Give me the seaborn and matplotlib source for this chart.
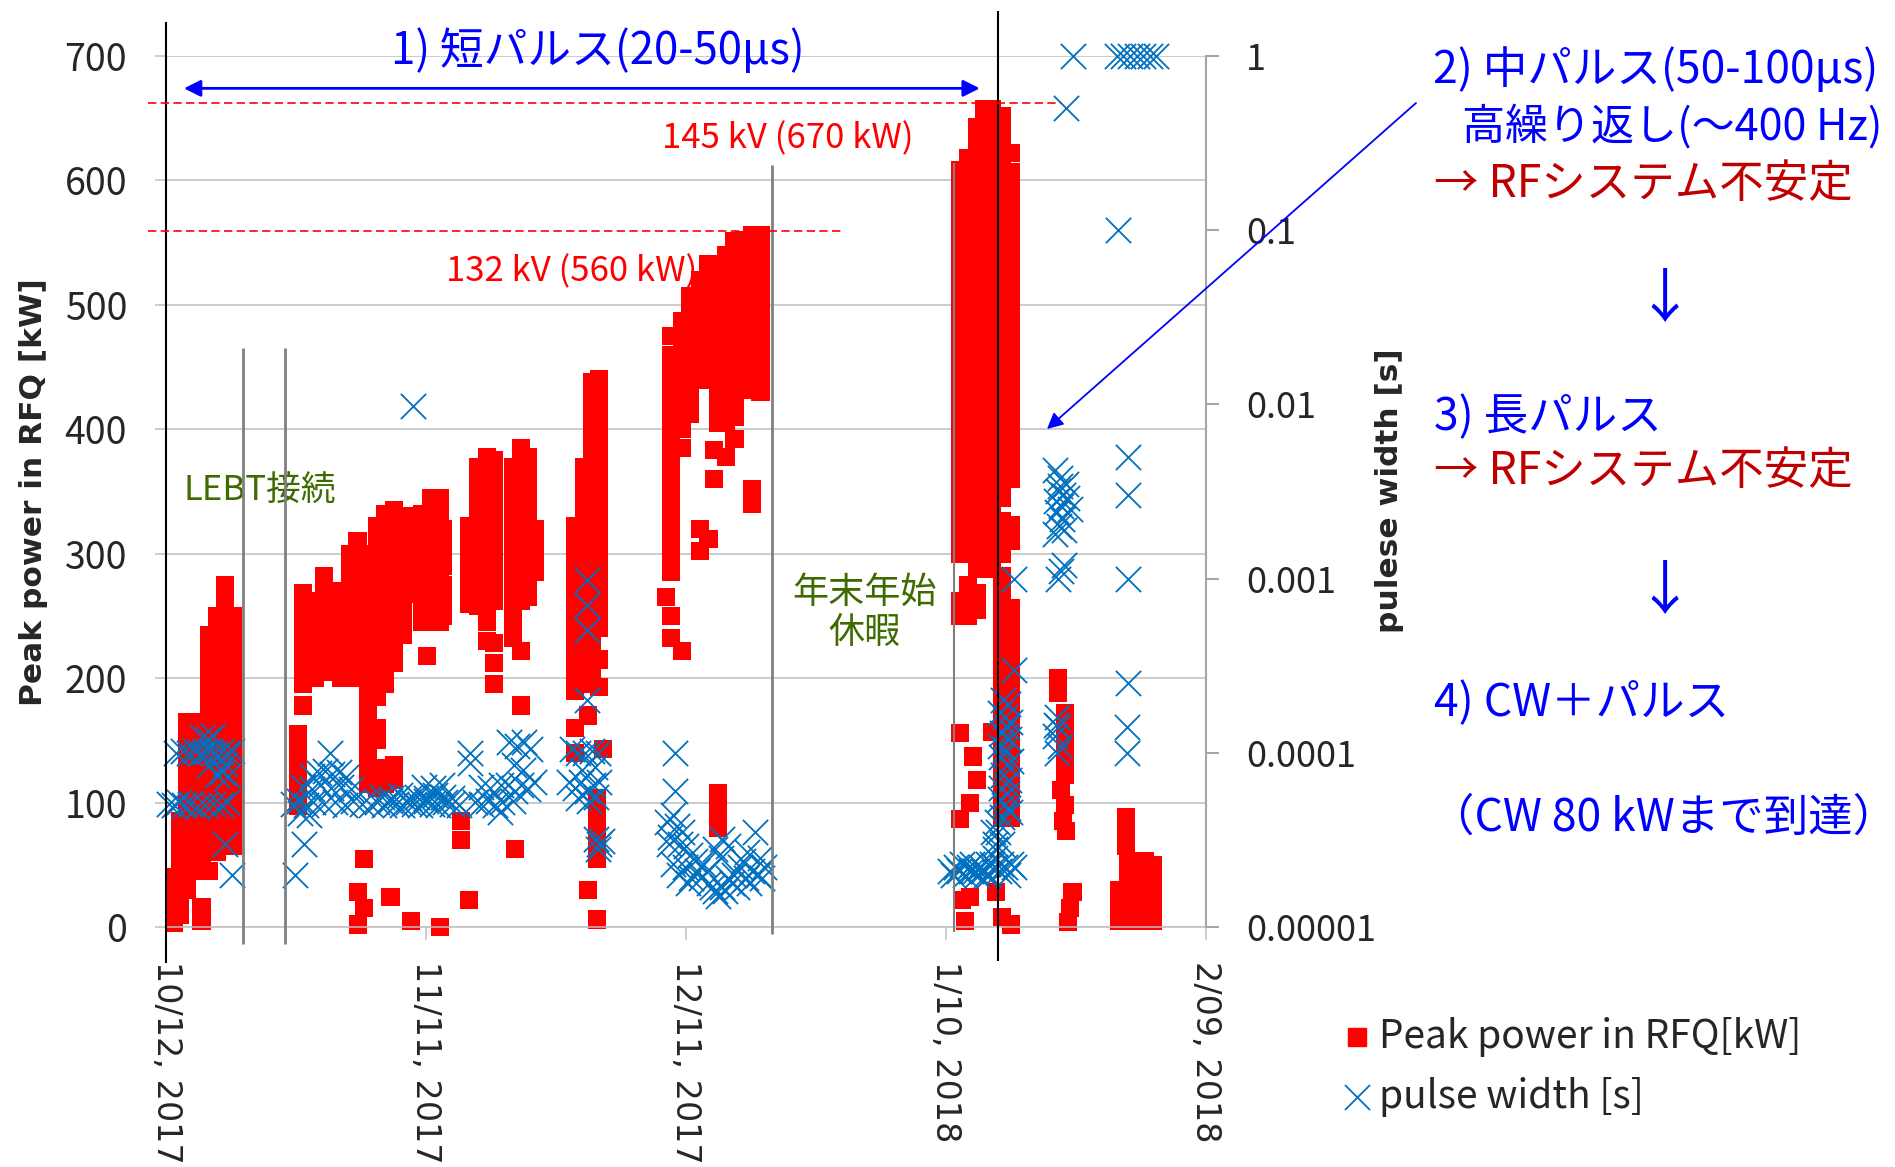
import matplotlib
matplotlib.use("Agg")
import matplotlib.pyplot as plt
from matplotlib.lines import Line2D
from matplotlib.ticker import NullLocator
import pandas as pd
import seaborn as sns

# ---------------- data (days since 10/12/2017) ----------------
x_tick_days = [0, 30, 60, 90, 120]
x_tick_labels = ["10/12, 2017", "11/11, 2017", "12/11, 2017", "1/10, 2018", "2/09, 2018"]
kw_ticks = [0, 100, 200, 300, 400, 500, 600, 700]
pw_ticks = [1e-5, 1e-4, 1e-3, 1e-2, 1e-1, 1]
pw_tick_labels = ["0.00001", "0.0001", "0.001", "0.01", "0.1", "1"]

# Peak power in RFQ [kW] : day of each column and the kW values read in that column
red_a_day = [0.9, 1.6, 2.4, 3.2, 4.1, 5.0, 5.9, 6.8, 7.7]
red_a_kw = [
    [3, 15, 28, 40],
    [10, 22, 35, 48, 60, 72, 85],
    [30, 42, 55, 68, 80, 92, 105, 118, 130, 142, 155, 165],
    [45, 58, 70, 82, 95, 108, 120, 132, 145, 158, 165],
    [5, 16, 55, 68, 80, 92, 105, 118, 130, 142, 155, 165],
    [45, 60, 72, 85, 98, 110, 122, 135, 148, 160, 172, 185, 198, 210, 222, 235],
    [60, 75, 88, 100, 112, 125, 138, 150, 162, 175, 188, 200, 212, 225, 238, 250],
    [65, 78, 90, 102, 115, 128, 140, 152, 165, 178, 190, 202, 215, 228, 240, 252, 264, 275],
    [65, 78, 90, 102, 115, 128, 140, 152, 165, 178, 190, 202, 215, 228, 240, 250],
]

red_b_day = [15.2, 15.8, 17.2, 18.2, 19.2, 20.2, 21.2, 22.1, 22.2, 22.8, 23.3, 24.3, 25.3, 25.9,
             26.3, 27.3, 28.3, 29.5, 30.1, 30.6, 31.6, 32.0, 34.0, 35.0, 36.0, 37.0, 37.8, 40.0,
             40.3, 41.0, 41.8, 42.6]
red_b_kw = [
    [97, 110, 122, 135, 147, 155],
    [178, 195, 208, 220, 232, 245, 258, 268],
    [200, 212, 225, 238, 250, 262],
    [205, 218, 230, 242, 255, 268, 282],
    [215, 228, 240, 252, 262],
    [200, 212, 225, 238, 250, 262, 270],
    [200, 212, 225, 238, 250, 262, 275, 288, 300],
    [205, 218, 230, 242, 255, 268, 280, 292, 305, 310],
    [2, 28],
    [15, 55],
    [115, 128, 140, 152, 165, 178, 190, 200, 212, 225, 238, 250, 262, 275, 288, 300],
    [112, 125, 150, 160, 185, 198, 210, 222, 235, 248, 260, 272, 285, 298, 310, 322],
    [115, 128, 195, 205, 220, 232, 245, 258, 270, 282, 295, 308, 320, 332],
    [24],
    [118, 130, 212, 225, 238, 250, 262, 275, 288, 300, 312, 325, 335],
    [235, 245, 255, 268, 280, 292, 305, 318, 330],
    [5, 268, 280, 292, 305, 318, 330],
    [245, 258, 270, 282, 295, 308, 320, 332],
    [218],
    [245, 258, 270, 282, 295, 308, 320, 335, 345],
    [0, 245, 258, 270, 282, 295, 308, 320, 332, 345],
    [250, 262, 275, 290, 305, 320],
    [70, 85],
    [22, 260, 272, 285, 298, 310, 322],
    [258, 270, 282, 295, 308, 320, 332, 345, 358, 370],
    [230, 245, 258, 270, 282, 295, 308, 320, 332, 345, 358, 370, 378],
    [195, 212, 228, 262, 275, 288, 300, 312, 325, 338, 350, 362, 375],
    [232, 245, 258, 270, 282, 295, 308, 320, 332, 345, 358, 370],
    [63],
    [178, 222, 262, 275, 288, 300, 312, 325, 338, 350, 362, 375, 385],
    [265, 278, 290, 302, 315, 328, 340, 352, 365, 378],
    [285, 298, 310, 320],
]

red_c_day = [47.2, 48.2, 48.7, 49.2, 49.7, 50.0, 50.4]
red_c_kw = [
    [140, 160, 190, 200, 212, 225, 238, 250, 262, 275, 288, 300, 312, 322],
    [195, 208, 220, 232, 245, 258, 270, 282, 295, 308, 320, 332, 345, 358, 370],
    [30, 170],
    [200, 212, 225, 238, 250, 262, 275, 288, 300, 312, 325, 338, 350, 362, 375, 388, 400, 412, 425, 438],
    [6, 55, 68, 80, 92, 104],
    [193, 215, 240, 255, 268, 280, 292, 305, 318, 332, 345, 358, 370, 382, 395, 408, 420, 432, 440],
    [143],
]

red_d_day = [57.7, 58.3, 59.5, 60.5, 61.6, 62.6, 63.2, 63.7, 64.6, 65.6, 66.6, 67.6, 68.6]
red_d_kw = [
    [265],
    [232, 250, 285, 298, 310, 322, 335, 348, 360, 372, 385, 398, 410, 422, 435, 448, 460, 475],
    [222, 385, 400, 412, 425, 438, 450, 462, 475, 487],
    [412, 425, 438, 450, 462, 475, 487, 500, 507],
    [302, 320, 450, 462, 475, 487, 500, 512, 520],
    [312, 440, 452, 465, 475, 487, 500, 512, 525, 533],
    [360, 383],
    [80, 95, 108, 405, 418, 430, 442, 455, 468, 480, 492, 505, 518, 530],
    [378, 405, 418, 430, 442, 455, 468, 480, 492, 505, 518, 530, 540],
    [392, 410, 422, 435, 448, 460, 472, 480, 492, 505, 518, 530, 542, 551],
    [450, 462, 472, 480, 492, 505, 518, 530, 542, 552],
    [340, 352, 432, 445, 458, 470, 482, 495, 508, 520, 532, 545, 556],
    [430, 442, 455, 468, 482, 495, 508, 520, 532, 545, 556],
]

red_e_day = [91.6, 91.8, 92.2, 92.5, 92.8, 93.1, 93.6, 94.4, 95.3, 95.8, 96.5, 97.5, 102.9, 103.3,
             103.5, 103.7, 103.8, 104.1, 104.3, 104.6, 110.0, 110.8, 111.0, 112.0, 113.0, 113.9]
red_e_kw = [
    [87, 156, 250, 262, 300, 313, 326, 339, 352, 365, 378, 391, 404, 417, 430, 443, 456, 469, 482,
     495, 508, 521, 534, 547, 560, 573, 586, 599, 608],
    [22],
    [5],
    [250, 265, 275, 300, 313, 326, 339, 352, 365, 378, 391, 404, 417, 430, 443, 456, 469, 482, 495,
     508, 521, 534, 547, 560, 573, 586, 599, 612, 618],
    [24, 100],
    [137],
    [118, 255, 268, 288, 300, 313, 326, 339, 352, 365, 378, 391, 404, 417, 430, 443, 456, 469, 482,
     495, 508, 521, 534, 547, 560, 573, 586, 599, 612, 625, 638, 643],
    [288, 300, 313, 326, 339, 352, 365, 378, 391, 404, 417, 430, 443, 456, 469, 482, 495, 508, 521,
     534, 547, 560, 573, 586, 599, 612, 625, 638, 650, 657],
    [157, 290, 318, 331, 344, 370, 383, 430, 443, 456, 469, 482, 495, 508, 521, 534, 547, 560, 573,
     586, 599, 612, 625, 638, 650, 657],
    [28],
    [8, 88, 100, 113, 126, 139, 152, 165, 178, 191, 204, 217, 230, 243, 256, 269, 282, 300, 313, 326,
     345, 358, 371, 384, 397, 410, 423, 436, 449, 462, 475, 488, 501, 514, 527, 540, 553, 566, 579,
     592, 605, 618, 631, 644, 652],
    [2, 88, 100, 113, 126, 139, 152, 165, 178, 191, 204, 217, 230, 243, 256, 310, 323, 360, 373, 386,
     399, 412, 425, 438, 451, 464, 477, 490, 503, 516, 529, 542, 555, 568, 581, 594, 607, 622],
    [188, 200],
    [110],
    [85],
    [98, 122, 135, 147, 160, 172],
    [77],
    [4],
    [15],
    [28],
    [5, 17, 30],
    [65, 75, 88],
    [5, 17, 30, 42, 53],
    [5, 17, 30, 42, 53],
    [5, 17, 30, 42, 53],
    [5, 17, 30, 42, 50],
]

# pulse width [s]
blue_a_day = [0.4, 0.9, 1.5, 2.1, 2.8, 3.6, 4.5, 5.4, 6.3, 7.0,
              1.2, 2.0, 2.6, 3.3, 4.0, 4.5, 5.1, 5.7, 6.3, 7.0, 7.6,
              4.2, 4.8, 5.4, 5.9, 6.5, 7.1, 5.0, 6.8, 6.8, 7.6]
blue_a_pw = [5.1e-5, 5.0e-5, 5.2e-5, 5.0e-5, 5.1e-5, 4.9e-5, 5.0e-5, 5.1e-5, 5.0e-5, 5.2e-5,
             1.0e-4, 1.02e-4, 1.0e-4, 1.03e-4, 1.0e-4, 1.01e-4, 1.02e-4, 1.0e-4, 1.01e-4, 1.0e-4, 1.02e-4,
             1.23e-4, 1.2e-4, 1.25e-4, 7.5e-5, 7.8e-5, 7.4e-5, 8.5e-5, 8.6e-5, 3.0e-5, 2.0e-5]

blue_b_day = [14.6, 15.4, 16.2, 17.0, 18.2, 19.5, 20.6, 21.6, 22.6, 23.6, 24.4, 25.1, 25.8, 26.5,
              27.2, 27.9, 28.6, 29.3, 30.0, 30.7, 31.4, 32.2, 33.0, 33.8, 35.6, 36.4, 37.2, 38.0, 38.8,
              24.9, 26.0, 27.0, 28.0, 29.0, 30.0, 31.0, 32.0, 33.0,
              15.8, 16.8, 17.8, 19.0, 20.2, 21.3, 29.8, 30.8, 31.8, 36.4, 37.4, 38.6,
              16.8, 17.6, 18.4, 19.2, 20.0, 20.8,
              18.9, 35.1, 35.1,
              15.9, 14.9, 15.5, 16.5, 28.5,
              39.6, 40.5, 41.3, 42.0, 40.2, 41.2, 39.5, 40.3, 41.0, 41.8, 42.5, 40.0, 38.5]
blue_b_pw = [5.1e-5, 5.3e-5, 5.0e-5, 5.2e-5, 5.1e-5, 5.2e-5, 5.0e-5, 5.3e-5, 5.1e-5, 5.0e-5, 5.2e-5,
             5.0e-5, 5.3e-5, 5.1e-5, 5.0e-5, 5.2e-5, 5.1e-5, 5.0e-5, 5.3e-5, 5.1e-5, 5.0e-5, 5.2e-5,
             5.1e-5, 5.0e-5, 5.2e-5, 5.1e-5, 5.3e-5, 5.0e-5, 5.2e-5,
             5.6e-5, 5.5e-5, 5.7e-5, 5.5e-5, 5.6e-5, 5.5e-5, 5.7e-5, 5.6e-5, 5.5e-5,
             6.4e-5, 6.2e-5, 6.5e-5, 6.3e-5, 6.4e-5, 6.2e-5, 6.4e-5, 6.3e-5, 6.5e-5, 6.4e-5, 6.3e-5, 6.5e-5,
             7.4e-5, 7.7e-5, 7.9e-5, 7.6e-5, 7.8e-5, 7.3e-5,
             1.0e-4, 1.0e-4, 8.7e-5,
             3.0e-5, 2.0e-5, 4.5e-5, 4.4e-5, 9.8e-3,
             1.15e-4, 1.1e-4, 1.15e-4, 1.05e-4, 8.5e-5, 8.0e-5, 6.5e-5, 6.0e-5, 6.5e-5, 6.2e-5, 6.8e-5,
             5.3e-5, 4.6e-5]

blue_c_day = [48.6, 48.6, 48.6, 48.6, 46.8, 47.5, 48.3, 49.1, 49.8, 46.5, 47.2, 47.9, 48.6, 49.3,
              50.0, 47.5, 48.8, 49.6, 48.0, 49.5, 49.6, 50.0, 49.8, 50.3]
blue_c_pw = [9.8e-4, 7.1e-4, 5.1e-4, 2.0e-4, 1.05e-4, 1.0e-4, 1.0e-4, 1.03e-4, 1.0e-4, 6.8e-5, 6.3e-5,
             6.8e-5, 6.0e-5, 6.5e-5, 6.8e-5, 5.5e-5, 5.3e-5, 5.6e-5, 8.0e-5, 8.3e-5, 3.2e-5, 3.0e-5,
             2.8e-5, 3.1e-5]

blue_d_day = [58.7, 58.7, 57.8, 58.5, 59.0, 58.2, 59.3, 60.0, 58.0, 59.5, 60.5,
              58.5, 59.2, 59.9, 60.6, 61.3, 62.0, 62.7, 63.4, 64.1, 64.8, 65.5, 66.2, 66.9, 67.6, 68.3, 69.0,
              63.3, 64.0, 64.5, 63.7, 64.8, 63.0, 65.3, 64.2, 68.0, 67.0, 68.5,
              60.2, 61.0, 61.7, 62.4, 65.9, 66.6, 67.3, 68.8]
blue_d_pw = [1.0e-4, 6.0e-5, 4.0e-5, 4.4e-5, 3.8e-5, 3.3e-5, 3.0e-5, 2.9e-5, 3.0e-5, 3.5e-5, 2.6e-5,
             2.3e-5, 2.0e-5, 2.2e-5, 1.9e-5, 2.1e-5, 2.3e-5, 1.8e-5, 1.6e-5, 1.7e-5, 1.9e-5, 2.0e-5,
             2.2e-5, 1.9e-5, 2.1e-5, 2.0e-5, 2.2e-5,
             2.8e-5, 2.5e-5, 1.6e-5, 1.5e-5, 2.9e-5, 1.7e-5, 1.8e-5, 3.2e-5, 3.5e-5, 2.7e-5, 2.5e-5,
             1.8e-5, 2.4e-5, 1.9e-5, 2.1e-5, 1.7e-5, 2.4e-5, 1.8e-5, 1.9e-5]

blue_e_day = [90.8, 91.5, 92.2, 92.9, 93.6, 94.3, 95.0, 95.7, 96.4, 97.1, 97.8, 91.2, 93.0, 94.8,
              90.5, 91.9, 92.6, 93.3, 94.0, 94.6, 95.3, 96.1, 96.8, 97.5,
              95.6, 95.6, 95.4, 95.9, 95.7, 96.0, 96.5,
              96.6, 97.2, 96.8, 97.0, 96.5, 97.3, 96.8, 96.3, 97.0, 96.6, 97.3, 96.4, 97.0, 96.7, 97.4, 96.5,
              96.2, 97.4, 96.9, 96.2, 97.5, 96.9, 96.2, 97.1,
              97.8, 97.8,
              102.8, 102.9, 102.6, 103.1, 102.8, 102.7,
              102.6, 103.2, 103.8, 102.9, 103.5, 102.7, 103.3, 104.0, 102.8, 103.4, 103.0, 102.6, 103.6,
              104.3, 103.1,
              103.6, 102.9, 103.3,
              111.0, 111.0, 111.0, 111.0, 110.9, 110.9,
              104.7, 109.7, 110.4, 111.2, 112.0, 112.7, 113.5, 114.2,
              103.9, 109.8]
blue_e_pw = [2.0e-5, 2.1e-5, 2.0e-5, 2.1e-5, 2.0e-5, 2.1e-5, 2.0e-5, 2.2e-5, 2.3e-5, 2.0e-5, 2.2e-5,
             2.2e-5, 2.3e-5, 2.3e-5,
             2.1e-5, 2.3e-5, 2.2e-5, 2.1e-5, 2.2e-5, 2.0e-5, 2.3e-5, 2.1e-5, 2.2e-5, 2.3e-5,
             2.5e-5, 3.0e-5, 3.5e-5, 4.0e-5, 2.8e-5, 3.5e-5, 3.0e-5,
             2.0e-4, 1.9e-4, 1.6e-4, 1.4e-4, 1.3e-4, 1.2e-4, 1.05e-4, 9.5e-5, 8.5e-5, 7.5e-5, 7.0e-5,
             6.3e-5, 5.8e-5, 5.0e-5, 4.6e-5, 4.3e-5,
             1.7e-4, 1.5e-4, 1.25e-4, 1.1e-4, 9.0e-5, 6.6e-5, 5.4e-5, 4.8e-5,
             3.0e-4, 1.0e-3,
             1.6e-4, 1.4e-4, 1.25e-4, 1.1e-4, 1.0e-4, 1.45e-4,
             4.2e-3, 3.8e-3, 3.5e-3, 3.2e-3, 3.0e-3, 2.8e-3, 2.6e-3, 2.9e-3, 2.4e-3, 2.2e-3, 2.0e-3,
             1.8e-3, 1.9e-3, 2.5e-3, 3.4e-3,
             1.2e-3, 1.0e-3, 1.1e-3,
             5.0e-3, 3.0e-3, 1.0e-3, 2.5e-4, 1.4e-4, 1.0e-4,
             1.0, 1.0, 1.0, 1.0, 1.0, 1.0, 1.0, 1.0,
             0.5, 0.1]


def columns_to_points(days, cols):
    xs, ys = [], []
    for d, vals in zip(days, cols):
        xs.extend([d] * len(vals))
        ys.extend(vals)
    return xs, ys


red_x, red_y = [], []
for dd, kk in [(red_a_day, red_a_kw), (red_b_day, red_b_kw), (red_c_day, red_c_kw),
               (red_d_day, red_d_kw), (red_e_day, red_e_kw)]:
    xs, ys = columns_to_points(dd, kk)
    red_x += xs
    red_y += ys
red_df = pd.DataFrame({"day": red_x, "kw": red_y})

blue_df = pd.DataFrame({
    "day": blue_a_day + blue_b_day + blue_c_day + blue_d_day + blue_e_day,
    "pw": blue_a_pw + blue_b_pw + blue_c_pw + blue_d_pw + blue_e_pw,
})

# ---------------- style ----------------
sns.set_style("white")
plt.rcParams["font.family"] = ["Noto Sans CJK JP", "DejaVu Sans"]
plt.rcParams["axes.unicode_minus"] = False

FIG_W, FIG_H = 1895, 1167


def fx(px):
    return px / FIG_W


def fy(py):
    return 1 - py / FIG_H


fig = plt.figure(figsize=(FIG_W / 100, FIG_H / 100), dpi=100)
rect = [fx(166), fy(927), (1206 - 166) / FIG_W, (927 - 56) / FIG_H]
ax = fig.add_axes(rect)
ax2 = ax.twinx()

RED = "#FF0000"
BLUE_X = "#0070C0"
BLUE_T = "#0000FF"
DARK_RED = "#C00000"
GREEN = "#3D6B00"
GRID = "#BFBFBF"

sns.scatterplot(data=red_df, x="day", y="kw", ax=ax, marker="s", s=170, color=RED,
                edgecolor="none", linewidth=0, legend=False, clip_on=False, zorder=2)
sns.scatterplot(data=blue_df, x="day", y="pw", ax=ax2, marker="x", s=330, color=BLUE_X,
                linewidth=1.3, legend=False, clip_on=False, zorder=3)

ax.set_xlim(0, 120)
ax.set_ylim(0, 700)
ax.set_xticks(x_tick_days)
ax.set_xticklabels(x_tick_labels, rotation=-90, fontfamily="DejaVu Sans", fontsize=24)
ax.set_yticks(kw_ticks)
ax.set_yticklabels([str(v) for v in kw_ticks], fontsize=27)
ax.set_xlabel("")
ax.set_ylabel("")
ax.grid(axis="y", color=GRID, linewidth=1.1)
ax.grid(axis="x", visible=False)
ax.set_axisbelow(True)
for s in ["left", "top", "right"]:
    ax.spines[s].set_visible(False)
ax.spines["bottom"].set_color(GRID)
ax.spines["bottom"].set_linewidth(1.1)
ax.tick_params(axis="y", left=True, length=8, width=1.1, color=GRID, pad=20)
ax.tick_params(axis="x", bottom=True, length=9.5, width=1.1, color=GRID, pad=15)

ax2.set_yscale("log")
ax2.set_ylim(1e-5, 1)
ax2.set_yticks(pw_ticks)
ax2.set_yticklabels(pw_tick_labels, fontsize=26)
ax2.yaxis.set_minor_locator(NullLocator())
ax2.set_ylabel("")
ax2.grid(False)
for s in ["left", "top", "bottom"]:
    ax2.spines[s].set_visible(False)
ax2.spines["right"].set_color("#A6A6A6")
ax2.spines["right"].set_linewidth(1.5)
ax2.tick_params(axis="y", which="major", right=True, length=9.5, width=1.5, color="#A6A6A6", pad=19.5)

# ---------------- overlay for lines / arrows ----------------
ax3 = fig.add_axes(rect, label="overlay", zorder=10)
ax3.set_xlim(0, 120)
ax3.set_ylim(0, 700)
ax3.axis("off")
ax3.patch.set_visible(False)

ax3.vlines([0, 96], [-29, -27], [727, 736], colors="black", linewidth=1.5, clip_on=False)
ax3.vlines([8.9, 13.7], -14, 465, colors="#808080", linewidth=2, clip_on=False)
ax3.vlines([69.9], -6, 612, colors="#808080", linewidth=2, clip_on=False)
ax3.vlines([90.9], -4, 614, colors="#808080", linewidth=1.5, clip_on=False)
ax3.hlines(662, -2.1, 103.3, colors=RED, linewidth=1.2, linestyles=(0, (5, 2.6)), clip_on=False)
ax3.hlines(559, -2.1, 77.9, colors=RED, linewidth=1.2, linestyles=(0, (5, 2.6)), clip_on=False)
ax3.annotate("", xy=(93.9, 674), xytext=(2.07, 674),
             arrowprops=dict(arrowstyle="<|-|>", color=BLUE_T, lw=2, mutation_scale=25,
                             shrinkA=0, shrinkB=0))
ax3.annotate("", xy=(fx(1047), fy(429)), xycoords="figure fraction",
             xytext=(fx(1416), fy(103)), textcoords="figure fraction",
             arrowprops=dict(arrowstyle="-|>", color=BLUE_T, lw=1.3, mutation_scale=24,
                             shrinkA=0, shrinkB=0), annotation_clip=False)

# ---------------- texts ----------------
cjk = ["Noto Sans CJK JP", "DejaVu Sans"]
fig.text(fx(598), fy(51), "1) 短パルス(20-50μs)", color=BLUE_T, fontsize=31.5, family=cjk,
         ha="center", va="center")
fig.text(fx(788), fy(139), "145 kV (670 kW)", color=RED, fontsize=25, family=cjk, ha="center", va="center")
fig.text(fx(572), fy(272), "132 kV (560 kW)", color=RED, fontsize=25, family=cjk, ha="center", va="center")
fig.text(fx(260), fy(490), "LEBT接続", color=GREEN, fontsize=25, family=cjk, ha="center", va="center")
fig.text(fx(864), fy(613), "年末年始\n休暇", color=GREEN, fontsize=26, family=cjk, ha="center",
         va="center", multialignment="center", linespacing=1.15)

fig.text(fx(1433), fy(70), "2) 中パルス(50-100μs)", color=BLUE_T, fontsize=32, family=cjk, va="center")
fig.text(fx(1462), fy(127), "高繰り返し(～400 Hz)", color=BLUE_T, fontsize=31, family=cjk, va="center")
fig.text(fx(1434), fy(184), "→ RFシステム不安定", color=DARK_RED, fontsize=32, family=cjk, va="center")
fig.text(fx(1665), fy(300), "↓", color=BLUE_T, fontsize=42, family=cjk, va="center", ha="center")
fig.text(fx(1434), fy(417), "3) 長パルス", color=BLUE_T, fontsize=32, family=cjk, va="center")
fig.text(fx(1434), fy(471), "→ RFシステム不安定", color=DARK_RED, fontsize=32, family=cjk, va="center")
fig.text(fx(1665), fy(592), "↓", color=BLUE_T, fontsize=42, family=cjk, va="center", ha="center")
fig.text(fx(1434), fy(703), "4) CW＋パルス", color=BLUE_T, fontsize=32, family=cjk, va="center")
fig.text(fx(1430), fy(818), "（CW 80 kWまで到達）", color=BLUE_T, fontsize=32, family=cjk, va="center")

fig.text(fx(34), fy(492), "Peak power in RFQ [kW]", rotation=90, fontsize=22.5, fontweight="bold",
         family="DejaVu Sans", ha="center", va="center")
fig.text(fx(1390), fy(491), "pulese width [s]", rotation=90, fontsize=22.5, fontweight="bold",
         family="DejaVu Sans", ha="center", va="center")

# legend
fig.add_artist(Line2D([fx(1357)], [fy(1037)], marker="s", markersize=13, color=RED, linestyle="none",
                      transform=fig.transFigure))
fig.add_artist(Line2D([fx(1357)], [fy(1097)], marker="x", markersize=18, markeredgewidth=1.3,
                      color=BLUE_X, linestyle="none", transform=fig.transFigure))
fig.text(fx(1379), fy(1037), "Peak power in RFQ[kW]", fontsize=28, family=cjk, va="center")
fig.text(fx(1379), fy(1097), "pulse width [s]", fontsize=28, family=cjk, va="center")

fig.savefig("out.png", dpi=100)
